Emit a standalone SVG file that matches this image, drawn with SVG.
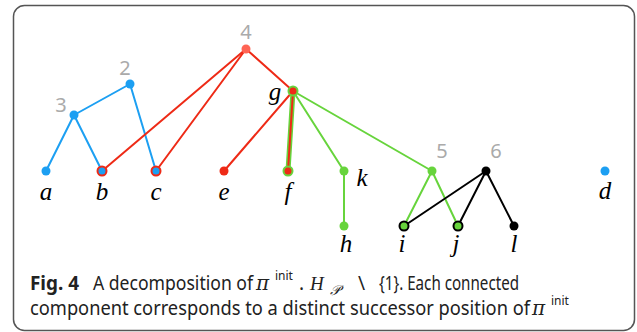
<svg xmlns="http://www.w3.org/2000/svg" width="637" height="332" viewBox="0 0 637 332">
<style>
.e{fill:none;stroke-width:2;stroke-linecap:round}
.bl{stroke:#1c9ff2}.rd{stroke:#ee2a16}.gr{stroke:#67d43c}.bk{stroke:#000}
.lab{font-family:"Liberation Serif",serif;font-style:italic;font-size:25px;text-anchor:middle;fill:#000}
.num{font-family:"Noto Sans","Open Sans",sans-serif;font-size:20px;text-anchor:middle;fill:#aaaaaa}
.cap{font-family:"Noto Sans","Open Sans",sans-serif;font-size:19px;fill:#222}
.sup{font-family:"Noto Sans","Open Sans",sans-serif;font-size:12px;font-style:normal;fill:#222}
.m{font-family:"Liberation Serif",serif;font-style:italic;font-size:19px;fill:#222}
.pi{font-family:"DejaVu Serif",serif;font-style:italic;font-size:20px;fill:#222}
.scr{font-family:"DejaVu Serif",serif;font-size:14px}
</style>
<rect x="13.5" y="5.5" width="621" height="325" rx="11" fill="#fff" stroke="#555" stroke-width="1.5"/>
<g id="connectors">
<line class="e bl" x1="74" y1="115" x2="46" y2="171"/>
<line class="e bl" x1="74" y1="115" x2="102" y2="171"/>
<line class="e bl" x1="74" y1="115" x2="130" y2="84"/>
<line class="e bl" x1="130" y1="84" x2="156" y2="171"/>
<line class="e rd" x1="246" y1="49" x2="102" y2="171"/>
<line class="e rd" x1="246" y1="49" x2="156" y2="171"/>
<line class="e rd" x1="246" y1="49" x2="293" y2="91"/>
<line class="e rd" x1="293" y1="91" x2="224" y2="171"/>
<line class="e gr" x1="293" y1="91" x2="288" y2="171" style="stroke-width:5"/>
<line class="e rd" x1="293" y1="91" x2="288" y2="171"/>
<line class="e gr" x1="293" y1="91" x2="344" y2="171"/>
<line class="e gr" x1="293" y1="91" x2="432" y2="171"/>
<line class="e gr" x1="344" y1="171" x2="344" y2="226"/>
<line class="e gr" x1="432" y1="171" x2="404" y2="226"/>
<line class="e gr" x1="432" y1="171" x2="458" y2="226"/>
<line class="e bk" x1="486" y1="171" x2="404" y2="226"/>
<line class="e bk" x1="486" y1="171" x2="458" y2="226"/>
<line class="e bk" x1="486" y1="171" x2="514" y2="226"/>
</g>
<g id="n4"><circle cx="246" cy="49" r="4.5" fill="#ff6454"/><text class="num" x="246" y="39">4</text></g>
<g id="n2"><circle cx="130" cy="84" r="4.5" fill="#1c9ff2"/><text class="num" x="125" y="75">2</text></g>
<g id="n3"><circle cx="74" cy="115" r="4.5" fill="#1c9ff2"/><text class="num" x="61" y="112">3</text></g>
<g id="ng"><circle cx="293" cy="91" r="4.5" fill="#ee2a16" stroke="#67d43c" stroke-width="2"/><text class="lab" x="275" y="100">g</text></g>
<g id="na"><circle cx="46" cy="171" r="4.5" fill="#1c9ff2"/><text class="lab" x="46" y="200">a</text></g>
<g id="nb"><circle cx="102" cy="171" r="4.5" fill="#1c9ff2" stroke="#ee2a16" stroke-width="2"/><text class="lab" x="102" y="200">b</text></g>
<g id="nc"><circle cx="156" cy="171" r="4.5" fill="#1c9ff2" stroke="#ee2a16" stroke-width="2"/><text class="lab" x="156" y="200">c</text></g>
<g id="ne"><circle cx="224" cy="171" r="4.5" fill="#ee2a16"/><text class="lab" x="224" y="200">e</text></g>
<g id="nf"><circle cx="288" cy="171" r="4.5" fill="#ee2a16" stroke="#67d43c" stroke-width="2"/><text class="lab" x="288" y="200">f</text></g>
<g id="nk"><circle cx="344" cy="171" r="4.5" fill="#67d43c"/><text class="lab" x="362" y="186">k</text></g>
<g id="n5"><circle cx="432" cy="171" r="4.5" fill="#67d43c"/><text class="num" x="442" y="158">5</text></g>
<g id="n6"><circle cx="486" cy="171" r="4.5" fill="#000"/><text class="num" x="496" y="158">6</text></g>
<g id="nh"><circle cx="344" cy="226" r="4.5" fill="#67d43c"/><text class="lab" x="346" y="252">h</text></g>
<g id="ni"><circle cx="404" cy="226" r="4.5" fill="#67d43c" stroke="#000" stroke-width="2"/><text class="lab" x="402" y="252">i</text></g>
<g id="nj"><circle cx="458" cy="226" r="4.5" fill="#67d43c" stroke="#000" stroke-width="2"/><text class="lab" x="456" y="252">j</text></g>
<g id="nl"><circle cx="514" cy="226" r="4.5" fill="#000"/><text class="lab" x="514" y="252">l</text></g>
<g id="nd"><circle cx="605" cy="171" r="4.5" fill="#1c9ff2"/><text class="lab" x="605" y="199">d</text></g>
<g id="caption">
<text class="cap" x="30" y="290" font-weight="bold" textLength="49" lengthAdjust="spacingAndGlyphs">Fig. 4</text>
<text class="cap" x="93" y="290" textLength="160" lengthAdjust="spacingAndGlyphs">A decomposition of</text>
<text class="pi" x="256" y="290">π<tspan class="sup" x="275" dy="-10">init</tspan></text>
<text class="cap" x="299" y="290">.</text>
<text class="m" x="310" y="290">H<tspan class="scr" x="330" dy="5">𝒫</tspan></text>
<text class="cap" x="358" y="290">\</text>
<text class="cap" x="379" y="290" textLength="140" lengthAdjust="spacingAndGlyphs">{1}. Each connected</text>
<text class="cap" x="30" y="315" textLength="500" lengthAdjust="spacingAndGlyphs">component corresponds to a distinct successor position of</text>
<text class="pi" x="532" y="315">π<tspan class="sup" x="551" dy="-10">init</tspan></text>
</g>
</svg>
